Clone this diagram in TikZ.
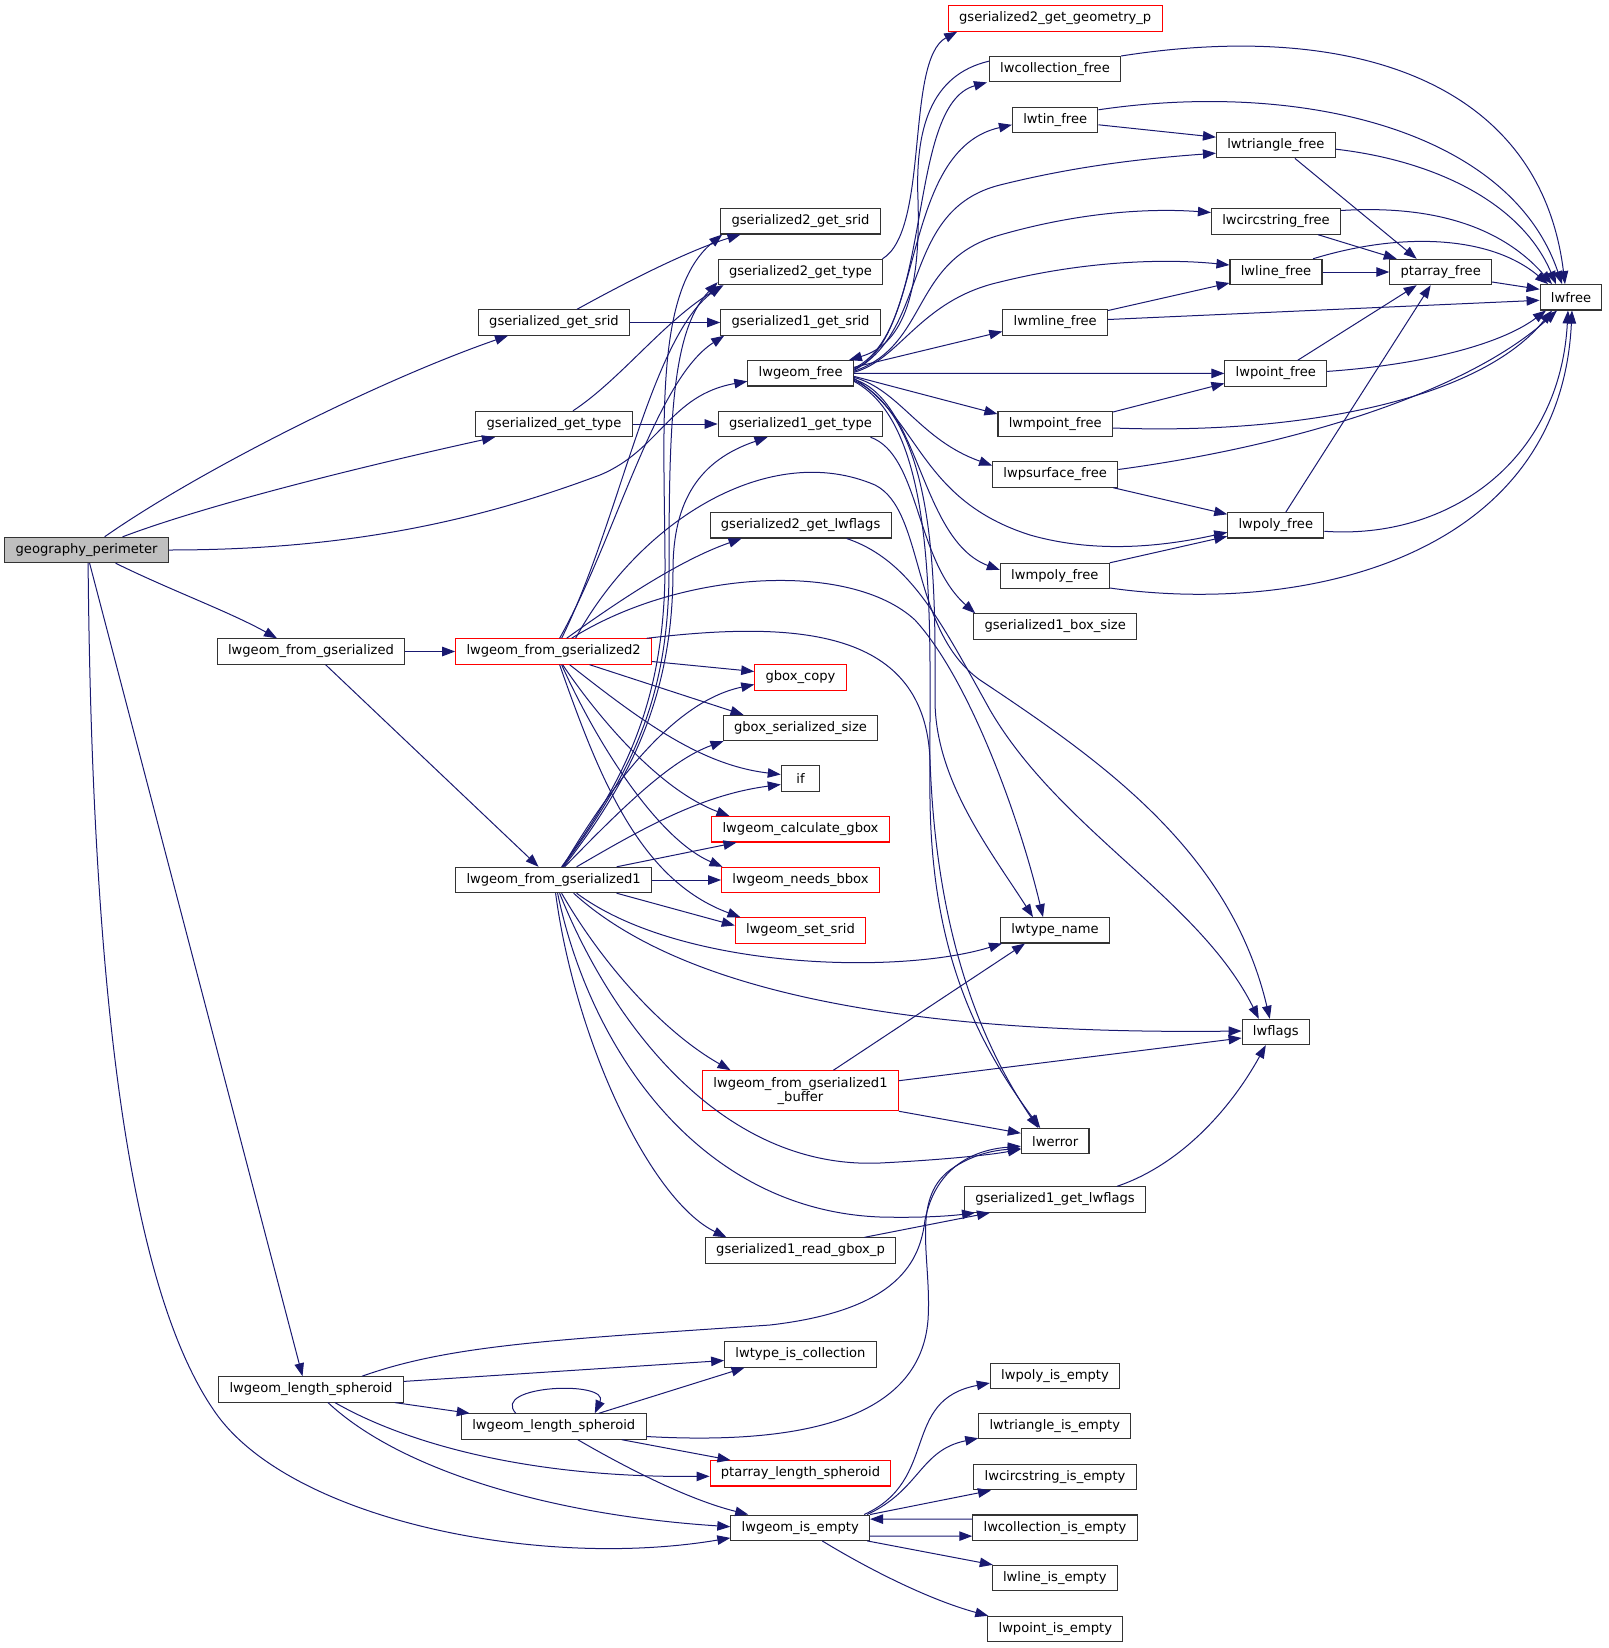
\documentclass[tikz,border=0pt]{standalone}
\usepackage{fontspec}
\setmainfont{DejaVu Sans}
\usetikzlibrary{arrows.meta}
\definecolor{edgeblue}{HTML}{191970}
\definecolor{rootgray}{HTML}{BFBFBF}
\tikzset{
  fn/.style={draw=black!80, line width=1.1pt, fill=white, inner xsep=10.8pt, inner ysep=0pt,
    minimum height=25.3pt, minimum width=38.4pt, font=\fontsize{13.1}{14}\selectfont},
  fnred/.style={fn, draw=red},
  fnroot/.style={fn, fill=rootgray},
  call/.style={edgeblue, line width=1pt, -{Triangle[length=13pt,width=9.5pt]}},
}

\begin{document}
\begin{tikzpicture}[x=1pt,y=-1pt]
\useasboundingbox (0,0) rectangle (1608,1648);

\node[fnroot] (gp) at (86.6,550) {geography\_perimeter};
\node[fn] (gsrid) at (554,322.5) {gserialized\_get\_srid};
\node[fn] (gtype) at (554,424) {gserialized\_get\_type};
\node[fn] (lfg) at (311,651.5) {lwgeom\_from\_gserialized};
\node[fnred] (lfgtwo) at (553.6,651.5) {lwgeom\_from\_gserialized2};
\node[fn] (lfgone) at (553.6,880) {lwgeom\_from\_gserialized1};
\node[fn] (lsA) at (311,1389.4) {lwgeom\_length\_spheroid};
\node[fn] (lsB) at (553.8,1426.5) {lwgeom\_length\_spheroid};

\node[fn] (gtwosrid) at (800.5,221.3) {gserialized2\_get\_srid};
\node[fn] (gtwotype) at (800.5,272) {gserialized2\_get\_type};
\node[fn] (gonesrid) at (800.5,322.5) {gserialized1\_get\_srid};
\node[fn] (lwgfree) at (800.6,373.3) {lwgeom\_free};
\node[fn] (gonetype) at (800.5,424) {gserialized1\_get\_type};
\node[fn] (gtwoflags) at (800.6,525.3) {gserialized2\_get\_lwflags};
\node[fnred] (gboxcopy) at (800.5,677.5) {gbox\_copy};
\node[fn] (gboxsize) at (800.5,728) {gbox\_serialized\_size};
\node[fn] (ifnode) at (800.5,778.5) {if};
\node[fnred] (calcgbox) at (800.5,829.3) {lwgeom\_calculate\_gbox};
\node[fnred] (needsbbox) at (800.5,880) {lwgeom\_needs\_bbox};
\node[fnred] (setsrid) at (800.5,930.5) {lwgeom\_set\_srid};
\node[fnred, align=center, minimum height=40pt] (buffer) at (800.5,1090.7) {lwgeom\_from\_gserialized1\\\_buffer};
\node[fn] (readgbox) at (800.5,1250.5) {gserialized1\_read\_gbox\_p};
\node[fn] (iscoll) at (800.5,1354.5) {lwtype\_is\_collection};
\node[fnred] (ptlen) at (800.5,1473.3) {ptarray\_length\_spheroid};
\node[fn] (isempty) at (800.2,1527.7) {lwgeom\_is\_empty};

\node[fnred] (geomp) at (1055.2,18.5) {gserialized2\_get\_geometry\_p};
\node[fn] (collfree) at (1055,69.2) {lwcollection\_free};
\node[fn] (tinfree) at (1055.2,119.8) {lwtin\_free};
\node[fn] (mlinefree) at (1055.2,322.5) {lwmline\_free};
\node[fn] (mpointfree) at (1055.2,424) {lwmpoint\_free};
\node[fn] (psurffree) at (1055.2,474.5) {lwpsurface\_free};
\node[fn] (mpolyfree) at (1054.8,576) {lwmpoly\_free};
\node[fn] (boxone) at (1055.2,626.5) {gserialized1\_box\_size};
\node[fn] (typename) at (1055,930.3) {lwtype\_name};
\node[fn] (lwerr) at (1055.2,1141.2) {lwerror};
\node[fn] (goneflags) at (1055,1199.5) {gserialized1\_get\_lwflags};
\node[fn] (polyempty) at (1055,1376) {lwpoly\_is\_empty};
\node[fn] (triempty) at (1054.8,1426.2) {lwtriangle\_is\_empty};
\node[fn] (circempty) at (1055,1477.2) {lwcircstring\_is\_empty};
\node[fn] (collempty) at (1055,1527.6) {lwcollection\_is\_empty};
\node[fn] (lineempty) at (1054.8,1578) {lwline\_is\_empty};
\node[fn] (pointempty) at (1055.3,1629) {lwpoint\_is\_empty};

\node[fn] (trifree) at (1275.9,145.2) {lwtriangle\_free};
\node[fn] (circfree) at (1276,221.5) {lwcircstring\_free};
\node[fn] (linefree) at (1276,272) {lwline\_free};
\node[fn] (pointfree) at (1275.8,373.4) {lwpoint\_free};
\node[fn] (polyfree) at (1275.8,525.3) {lwpoly\_free};
\node[fn] (lwflagsn) at (1275.8,1032) {lwflags};
\node[fn] (ptfree) at (1440.7,272) {ptarray\_free};
\node[fn] (lwfreen) at (1571,297.3) {lwfree};

\draw[call] ([xshift=18pt]gp.north) .. controls (200,470) and (380,380) .. ([xshift=-46pt]gsrid.south);
\draw[call] ([xshift=36pt]gp.north) .. controls (220,500) and (400,458) .. ([xshift=-59pt]gtype.south);
\draw[call] (gp.east) .. controls (350,550) and (480,520) .. (600,475) .. controls (660,450) and (670,395) .. ([yshift=-8pt]lwgfree.west);
\draw[call] ([xshift=29pt]gp.south) .. controls (170,590) and (230,612) .. ([xshift=-34pt]lfg.north);
\draw[call] ([xshift=3pt]gp.south) -- ([xshift=-8.5pt]lsA.north);
\draw[call] ([xshift=1.5pt]gp.south) .. controls (92,1000) and (130,1290) .. (215,1412) .. controls (290,1520) and (540,1570) .. ([yshift=3pt]isempty.south west);

\draw[call] ([xshift=23pt]gsrid.north) .. controls (630,280) and (690,250) .. ([xshift=-60pt]gtwosrid.south);
\draw[call] (gsrid.east) -- (gonesrid.west);
\draw[call] ([xshift=19pt]gtype.north) .. controls (620,380) and (665,320) .. ([xshift=-77pt]gtwotype.south);
\draw[call] (gtype.east) -- (gonetype.west);
\draw[call] (lfg.east) -- (lfgtwo.west);
\draw[call] ([xshift=14.6pt]lfg.south) -- ([xshift=-15pt]lfgone.north);

\draw[call] ([xshift=8pt]lfgtwo.north) .. controls (620,520) and (650,340) .. ([xshift=4pt]gtwotype.south west);
\draw[call] ([xshift=6pt]lfgtwo.north) .. controls (615,540) and (655,380) .. ([xshift=4pt]gonesrid.south west);
\draw[call] ([xshift=13pt]lfgtwo.north) .. controls (620,600) and (680,560) .. ([xshift=-59pt]gtwoflags.south);
\draw[call] ([xshift=22pt]lfgtwo.north) .. controls (640,520) and (770,440) .. (875,485) .. controls (925,510) and (910,630) .. (980,680) .. controls (1100,760) and (1230,850) .. ([xshift=-6pt]lwflagsn.north);
\draw[call] ([xshift=18pt]lfgtwo.north) .. controls (680,570) and (850,560) .. (915,620) .. controls (970,680) and (1020,820) .. ([xshift=-12pt]typename.north);
\draw[call] ([xshift=93pt]lfgtwo.north) .. controls (800,620) and (925,630) .. (930,760) .. controls (935,900) and (965,1020) .. ([xshift=-17pt]lwerr.north);
\draw[call] ([yshift=-10pt]lfgtwo.east) -- ([yshift=6pt]gboxcopy.west);
\draw[call] ([xshift=36pt]lfgtwo.south) -- ([xshift=-57pt]gboxsize.north);
\draw[call] ([xshift=16pt]lfgtwo.south) .. controls (640,720) and (700,765) .. ([yshift=4pt]ifnode.west);
\draw[call] ([xshift=9pt]lfgtwo.south) .. controls (600,720) and (660,790) .. ([xshift=-71pt]calcgbox.north);
\draw[call] ([xshift=8pt]lfgtwo.south) .. controls (600,750) and (660,840) .. ([xshift=-78pt]needsbbox.north);
\draw[call] ([xshift=6pt]lfgtwo.south) .. controls (600,780) and (640,880) .. ([xshift=-60pt]setsrid.north);

\draw[call] ([xshift=8pt]lfgone.north) .. controls (625,780) and (666,700) .. (665,560) .. controls (664,420) and (655,290) .. ([xshift=2pt]gtwosrid.south west);
\draw[call] ([xshift=9pt]lfgone.north) .. controls (630,775) and (669,700) .. (669,570) .. controls (669,420) and (672,330) .. ([yshift=3pt]gtwotype.south west);
\draw[call] ([xshift=10pt]lfgone.north) .. controls (635,775) and (673,690) .. (673,570) .. controls (673,500) and (700,460) .. ([xshift=-33pt]gonetype.south);
\draw[call] ([xshift=9pt]lfgone.north) .. controls (620,770) and (680,700) .. ([yshift=-7pt]gboxcopy.west);
\draw[call] ([xshift=11pt]lfgone.north) .. controls (620,810) and (670,760) .. ([xshift=-77pt]gboxsize.south);
\draw[call] ([xshift=23pt]lfgone.north) .. controls (640,830) and (700,795) .. ([yshift=-6pt]ifnode.west);
\draw[call] ([xshift=63pt]lfgone.north) -- ([xshift=-64pt]calcgbox.south);
\draw[call] (lfgone.east) -- (needsbbox.west);
\draw[call] ([xshift=63pt]lfgone.south) -- ([yshift=5pt]setsrid.west);
\draw[call] ([xshift=23pt]lfgone.south) .. controls (680,970) and (900,975) .. ([xshift=-53pt]typename.south);
\draw[call] ([xshift=20pt]lfgone.south) .. controls (680,990) and (900,1035) .. ([yshift=1pt]lwflagsn.west);
\draw[call] ([xshift=8pt]lfgone.south) .. controls (600,960) and (660,1030) .. ([xshift=-70pt]buffer.north);
\draw[call] ([xshift=6pt]lfgone.south) .. controls (610,1020) and (720,1170) .. (880,1163) .. controls (940,1160) and (990,1155) .. ([yshift=-8pt]lwerr.west);
\draw[call] ([xshift=4pt]lfgone.south) .. controls (590,1050) and (700,1210) .. (880,1217) .. controls (920,1218) and (950,1216) .. ([xshift=-80pt]goneflags.south);
\draw[call] ([xshift=2pt]lfgone.south) .. controls (575,1040) and (650,1200) .. ([xshift=-74pt]readgbox.north);

\draw[call] ([yshift=5pt]lwgfree.east) .. controls (935,330) and (905,105) .. ([xshift=-68pt]collfree.south);
\draw[call] ([yshift=8pt]collfree.west) .. controls (930,75) and (915,130) .. (918,200) .. controls (921,300) and (900,345) .. ([xshift=-5pt]lwgfree.north east);
\draw[call] ([yshift=4pt]lwgfree.east) .. controls (925,340) and (900,150) .. ([yshift=-5pt]tinfree.west);
\draw[call] ([yshift=3pt]lwgfree.east) .. controls (930,330) and (900,210) .. (1000,185) .. controls (1080,165) and (1150,158) .. ([yshift=-8pt]trifree.west);
\draw[call] ([yshift=2pt]lwgfree.east) .. controls (930,345) and (910,260) .. (1000,235) .. controls (1080,212) and (1150,208) .. ([yshift=9pt]circfree.west);
\draw[call] ([yshift=1pt]lwgfree.east) .. controls (900,360) and (920,300) .. (1000,282) .. controls (1080,262) and (1160,258) .. ([yshift=7pt]linefree.west);
\draw[call] ([yshift=6pt]lwgfree.east) -- ([yshift=-9pt]mlinefree.west);
\draw[call] (lwgfree.east) -- (pointfree.west);
\draw[call] ([yshift=-3pt]lwgfree.east) -- ([yshift=10pt]mpointfree.west);
\draw[call] ([yshift=-4pt]lwgfree.east) .. controls (900,390) and (920,440) .. ([yshift=9pt]psurffree.west);
\draw[call] ([yshift=-5pt]lwgfree.east) .. controls (920,420) and (920,500) .. (1030,535) .. controls (1100,555) and (1170,545) .. ([yshift=-7pt]polyfree.west);
\draw[call] ([yshift=-6pt]lwgfree.east) .. controls (920,400) and (920,540) .. ([yshift=6pt]mpolyfree.west);
\draw[call] ([yshift=-7pt]lwgfree.east) .. controls (940,420) and (935,600) .. (935,700) .. controls (935,780) and (990,850) .. ([xshift=-22pt]typename.north);
\draw[call] ([yshift=-8pt]lwgfree.east) .. controls (945,430) and (928,650) .. (930,800) .. controls (932,950) and (975,1040) .. ([xshift=-15pt]lwerr.north);

\draw[call] ([xshift=70pt]gonetype.south) .. controls (920,455) and (915,560) .. ([xshift=-80pt]boxone.north);
\draw[call] ([xshift=82pt]gtwotype.north) .. controls (930,230) and (905,60) .. ([xshift=-98pt]geomp.south);
\draw[call] ([xshift=46pt]gtwoflags.south) .. controls (910,560) and (940,620) .. (990,710) .. controls (1060,830) and (1200,900) .. ([xshift=-17pt]lwflagsn.north);

\draw[call] (collfree.north east) .. controls (1350,20) and (1540,80) .. ([xshift=-6pt]lwfreen.north);
\draw[call] ([yshift=10pt]tinfree.east) .. controls (1300,80) and (1510,130) .. ([xshift=-9pt]lwfreen.north);
\draw[call] ([yshift=-5pt]tinfree.east) -- ([yshift=8pt]trifree.west);
\draw[call] ([xshift=19pt]trifree.south) -- ([xshift=-24pt]ptfree.north);
\draw[call] ([yshift=-4pt]trifree.east) .. controls (1430,160) and (1520,200) .. ([xshift=-15pt]lwfreen.north);
\draw[call] ([xshift=42pt]circfree.south) -- ([xshift=-44pt]ptfree.north);
\draw[call] ([yshift=11pt]circfree.east) .. controls (1430,205) and (1500,225) .. ([xshift=-19pt]lwfreen.north);
\draw[call] (linefree.east) -- (ptfree.west);
\draw[call] ([xshift=37pt]linefree.north) .. controls (1400,232) and (1490,235) .. ([xshift=-23pt]lwfreen.north);
\draw[call] ([yshift=-10pt]ptfree.east) -- ([yshift=8pt]lwfreen.west);
\draw[call] ([yshift=3pt]mlinefree.east) -- ([yshift=-3pt]lwfreen.west);
\draw[call] ([yshift=12pt]mlinefree.east) -- ([yshift=-11pt]linefree.west);
\draw[call] ([xshift=22pt]pointfree.north) -- ([xshift=-24pt]ptfree.south);
\draw[call] ([yshift=2pt]pointfree.east) .. controls (1420,365) and (1500,345) .. ([xshift=-25pt]lwfreen.south);
\draw[call] ([yshift=12pt]mpointfree.east) -- ([yshift=-10pt]pointfree.west);
\draw[call] ([yshift=-4pt]mpointfree.east) .. controls (1300,435) and (1480,400) .. ([xshift=-19pt]lwfreen.south);
\draw[call] ([yshift=5pt]psurffree.east) .. controls (1300,445) and (1470,390) .. ([xshift=-14pt]lwfreen.south);
\draw[call] ([xshift=58pt]psurffree.south) -- ([yshift=11pt]polyfree.west);
\draw[call] ([xshift=10pt]polyfree.north) -- ([xshift=-10pt]ptfree.south);
\draw[call] ([yshift=-6pt]polyfree.east) .. controls (1450,540) and (1560,460) .. ([xshift=-3pt]lwfreen.south);
\draw[call] ([xshift=55pt]mpolyfree.north) -- ([yshift=-11pt]polyfree.west);
\draw[call] ([yshift=-12pt]mpolyfree.east) .. controls (1300,615) and (1560,560) .. ([xshift=1pt]lwfreen.south);

\draw[call] ([xshift=62pt]goneflags.north) .. controls (1180,1165) and (1230,1110) .. ([xshift=-10pt]lwflagsn.south);
\draw[call] ([xshift=33pt]buffer.north) -- ([xshift=-30pt]typename.south);
\draw[call] ([yshift=10pt]buffer.east) -- ([yshift=-6pt]lwflagsn.west);
\draw[call] (buffer.south east) -- ([yshift=8pt]lwerr.west);
\draw[call] ([xshift=64pt]readgbox.north) -- ([xshift=-65pt]goneflags.south);

\draw[call] ([xshift=51pt]lsA.north) .. controls (450,1345) and (550,1340) .. (770,1325) .. controls (900,1310) and (920,1260) .. (925,1220) .. controls (935,1170) and (970,1150) .. ([yshift=-5pt]lwerr.west);
\draw[call] ([yshift=8pt]lsA.east) -- ([yshift=-6pt]iscoll.west);
\draw[call] ([xshift=84pt]lsA.south) -- ([xshift=-84pt]lsB.north);
\draw[call] ([xshift=24pt]lsA.south) .. controls (400,1440) and (520,1478) .. ([yshift=-3pt]ptlen.west);
\draw[call] ([xshift=17pt]lsA.south) .. controls (400,1470) and (550,1515) .. ([yshift=1pt]isempty.west);
\draw[call] ([xshift=-38pt]lsB.north) .. controls (490,1385) and (610,1380) .. ([xshift=41pt]lsB.north);
\draw[call] ([xshift=45pt]lsB.north) -- ([xshift=-56pt]iscoll.south);
\draw[call] ([yshift=-10pt]lsB.east) .. controls (800,1445) and (920,1420) .. (928,1320) .. controls (932,1260) and (910,1200) .. (950,1170) .. controls (975,1152) and (1000,1150) .. ([yshift=-7pt]lwerr.west);
\draw[call] ([xshift=68pt]lsB.south) -- ([xshift=-70pt]ptlen.north);
\draw[call] ([xshift=24pt]lsB.south) .. controls (630,1470) and (690,1500) .. ([xshift=-52pt]isempty.north);

\draw[call] ([xshift=64pt]isempty.north) .. controls (940,1480) and (900,1400) .. ([yshift=-7pt]polyempty.west);
\draw[call] ([xshift=67pt]isempty.north) .. controls (920,1490) and (920,1450) .. ([yshift=-12pt]triempty.west);
\draw[call] (isempty.north east) -- ([xshift=-64pt]circempty.south);
\draw[call] ([yshift=8.6pt]collempty.west) -- ([yshift=8.6pt]isempty.east);
\draw[call] ([yshift=-8.5pt]isempty.east) -- ([yshift=-8.5pt]collempty.west);
\draw[call] ([xshift=67pt]isempty.south) -- ([xshift=-62pt]lineempty.north);
\draw[call] ([xshift=22pt]isempty.south) .. controls (870,1570) and (930,1600) .. ([xshift=-67pt]pointempty.north);
\end{tikzpicture}
\end{document}
